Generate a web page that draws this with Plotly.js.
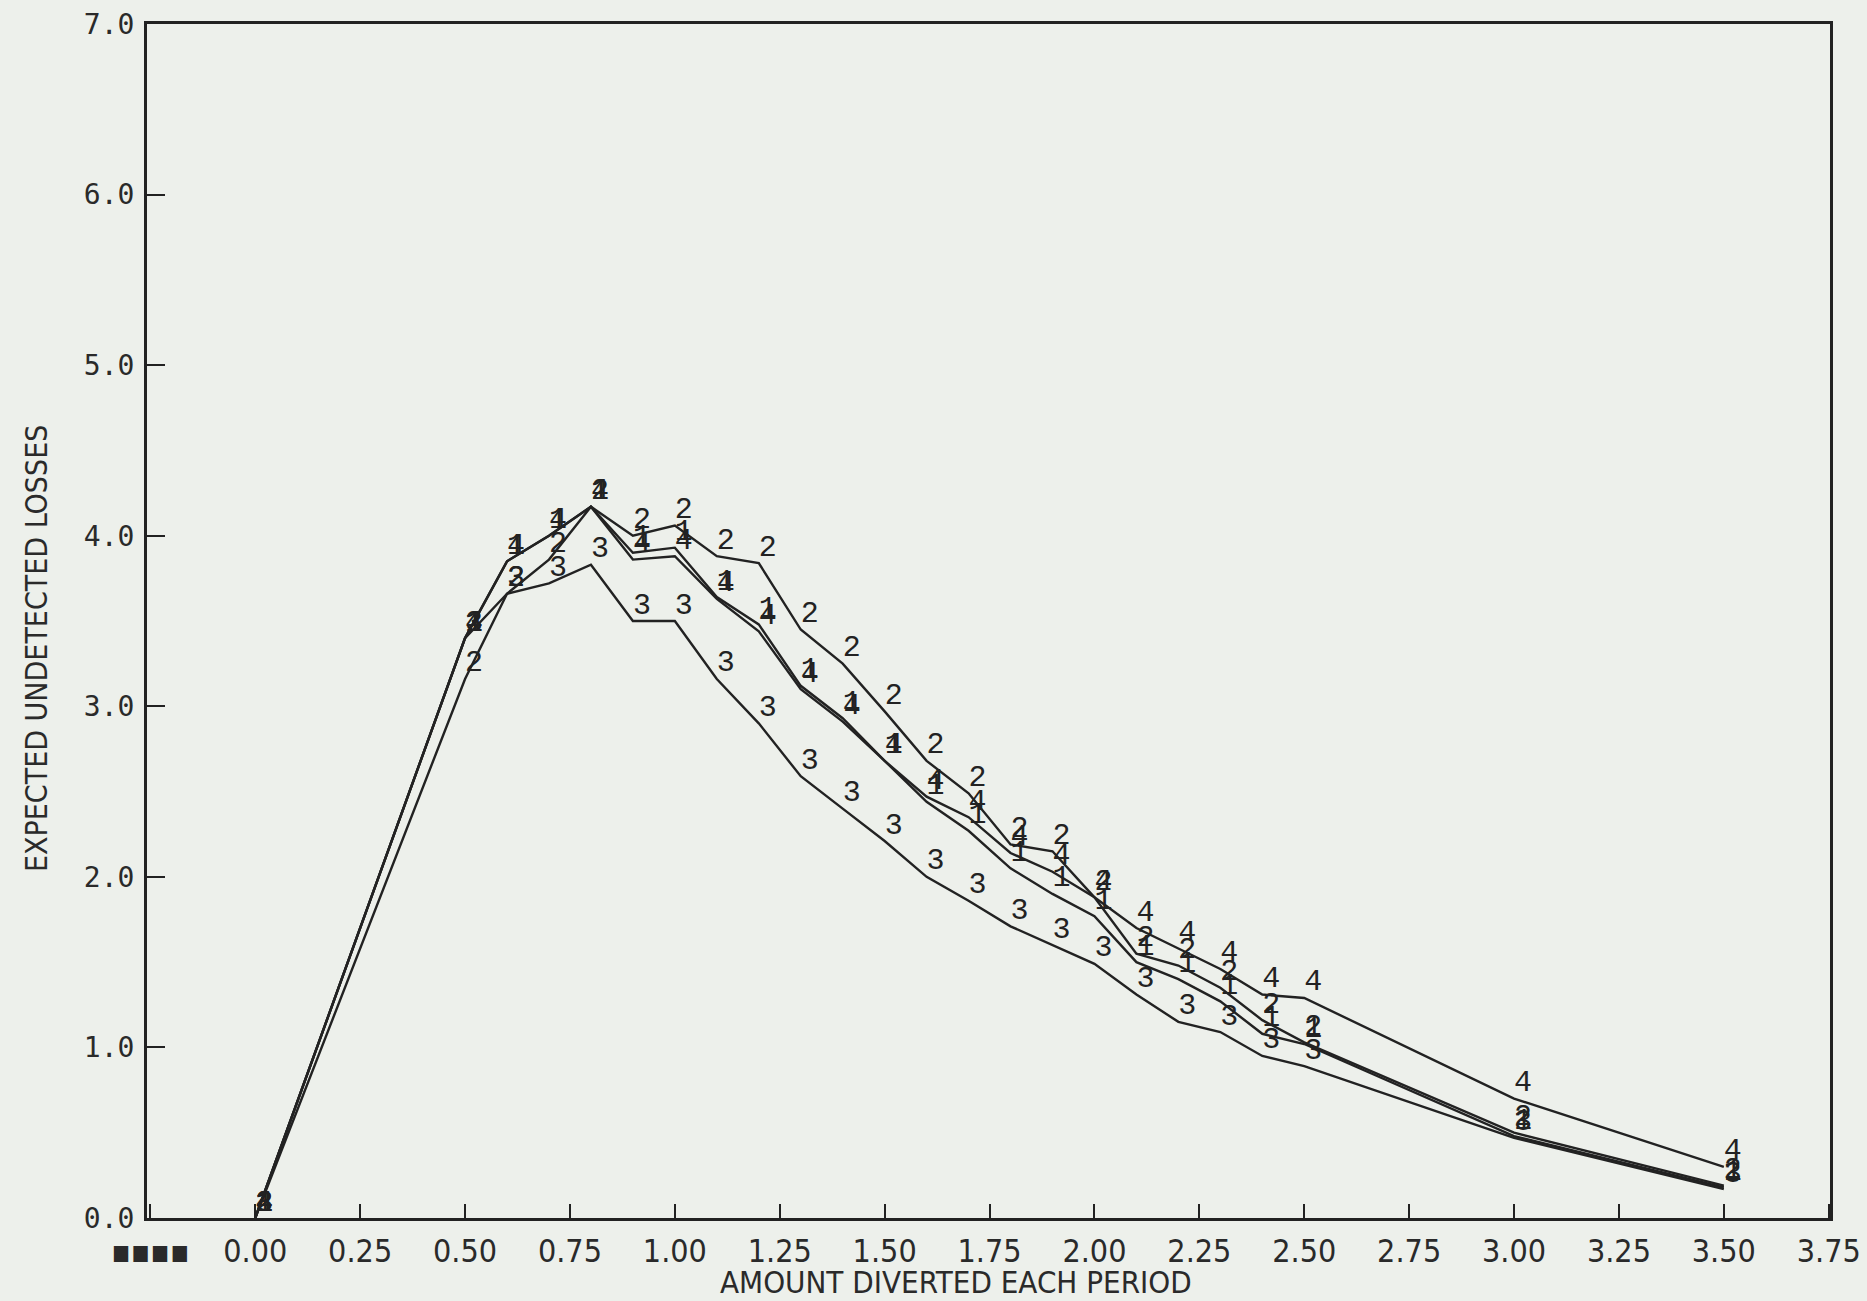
<!DOCTYPE html>
<html>
<head>
<meta charset="utf-8">
<script src="https://cdn.plot.ly/plotly-3.0.1.min.js"></script>
<style>
  html, body { margin: 0; padding: 0; background: #edf0eb; }
  #chart { width: 1867px; height: 1301px; }
</style>
</head>
<body>
<div id="chart"></div>
<script>
// Amount diverted each period (x values)
const amountDiverted = [0.0, 0.5, 0.6, 0.7, 0.8, 0.9, 1.0, 1.1, 1.2, 1.3, 1.4, 1.5, 1.6, 1.7, 1.8, 1.9, 2.0, 2.1, 2.2, 2.3, 2.4, 2.5, 3.0, 3.5];

// Expected undetected losses for each curve
const series1 = [0.0, 3.40, 3.85, 4.00, 4.17, 3.90, 3.93, 3.64, 3.48, 3.12, 2.93, 2.68, 2.44, 2.27, 2.05, 1.90, 1.77, 1.50, 1.40, 1.27, 1.08, 1.02, 0.48, 0.18];
const series2 = [0.0, 3.16, 3.66, 3.86, 4.17, 4.00, 4.06, 3.88, 3.84, 3.45, 3.25, 2.97, 2.68, 2.49, 2.19, 2.15, 1.88, 1.55, 1.48, 1.35, 1.16, 1.03, 0.50, 0.19];
const series3 = [0.0, 3.40, 3.66, 3.72, 3.83, 3.50, 3.50, 3.16, 2.90, 2.59, 2.40, 2.21, 2.00, 1.86, 1.71, 1.60, 1.49, 1.31, 1.15, 1.09, 0.95, 0.89, 0.47, 0.17];
const series4 = [0.0, 3.40, 3.85, 4.00, 4.17, 3.86, 3.88, 3.63, 3.44, 3.10, 2.91, 2.68, 2.47, 2.35, 2.14, 2.03, 1.88, 1.70, 1.58, 1.46, 1.31, 1.29, 0.70, 0.30];

const seriesLabels = ['1', '2', '3', '4'];

// Tick labels
const xTickVals = [-0.25, 0.0, 0.25, 0.5, 0.75, 1.0, 1.25, 1.5, 1.75, 2.0, 2.25, 2.5, 2.75, 3.0, 3.25, 3.5, 3.75];
const xTickText = ['\u25AA\u25AA\u25AA\u25AA', '0.00', '0.25', '0.50', '0.75', '1.00', '1.25', '1.50', '1.75', '2.00', '2.25', '2.50', '2.75', '3.00', '3.25', '3.50', '3.75'];
const yTickVals = [0, 1, 2, 3, 4, 5, 6, 7];
const yTickText = ['0.0', '1.0', '2.0', '3.0', '4.0', '5.0', '6.0', '7.0'];

const xTitle = 'AMOUNT DIVERTED EACH PERIOD';
const yTitle = 'EXPECTED UNDETECTED LOSSES';

const ink = '#222222';
const allSeries = [series1, series2, series3, series4];

const traces = allSeries.map((ys, i) => ({
  x: amountDiverted,
  y: ys,
  type: 'scatter',
  mode: 'lines+text',
  name: seriesLabels[i],
  text: amountDiverted.map(() => seriesLabels[i]),
  textposition: 'top right',
  textfont: { family: 'Liberation Mono, DejaVu Sans Mono, monospace', size: 30, color: ink },
  line: { color: ink, width: 2.4 },
  cliponaxis: false,
  hoverinfo: 'none',
  showlegend: false
}));

const W = 1867, H = 1301;
const L = 147, R = 37, T = 24, B = 83;
const pw = W - L - R, ph = H - T - B;
const px2paperX = (px) => (px - L) / pw;
const px2paperY = (py) => (H - B - py) / ph;

const layout = {
  width: W,
  height: H,
  margin: { l: L, r: R, t: T, b: B, pad: 0 },
  paper_bgcolor: '#edf0eb',
  plot_bgcolor: '#edf0eb',
  showlegend: false,
  xaxis: {
    range: [-0.258, 3.753],
    tickmode: 'array',
    tickvals: xTickVals,
    ticktext: xTickText,
    ticks: 'inside',
    ticklen: 14,
    tickwidth: 2,
    tickcolor: ink,
    showline: true,
    linecolor: ink,
    linewidth: 3,
    mirror: true,
    showgrid: false,
    zeroline: false,
    ticklabelstandoff: 3,
    tickfont: { family: 'Liberation Sans Narrow, DejaVu Sans Condensed, sans-serif', size: 32, color: '#2a2a2a' }
  },
  yaxis: {
    range: [0, 7],
    tickmode: 'array',
    tickvals: yTickVals,
    ticktext: yTickText,
    ticks: 'inside',
    ticklen: 18,
    tickwidth: 2,
    tickcolor: ink,
    showline: true,
    linecolor: ink,
    linewidth: 3,
    mirror: true,
    showgrid: false,
    zeroline: false,
    ticklabelstandoff: 4,
    tickfont: { family: 'DejaVu Sans Mono, monospace', size: 28, color: '#2a2a2a' }
  },
  annotations: [
    {
      text: xTitle,
      xref: 'paper', yref: 'paper',
      x: px2paperX(956), y: px2paperY(1282),
      xanchor: 'center', yanchor: 'middle',
      showarrow: false,
      font: { family: 'Liberation Sans Narrow, DejaVu Sans Condensed, sans-serif', size: 31, color: '#2a2a2a' }
    },
    {
      text: yTitle,
      xref: 'paper', yref: 'paper',
      x: px2paperX(36), y: px2paperY(649),
      xanchor: 'center', yanchor: 'middle',
      textangle: -90,
      showarrow: false,
      font: { family: 'Liberation Sans Narrow, DejaVu Sans Condensed, sans-serif', size: 30, color: '#2a2a2a' }
    }
  ]
};

Plotly.newPlot('chart', traces, layout, { displayModeBar: false, staticPlot: true });
</script>
</body>
</html>
